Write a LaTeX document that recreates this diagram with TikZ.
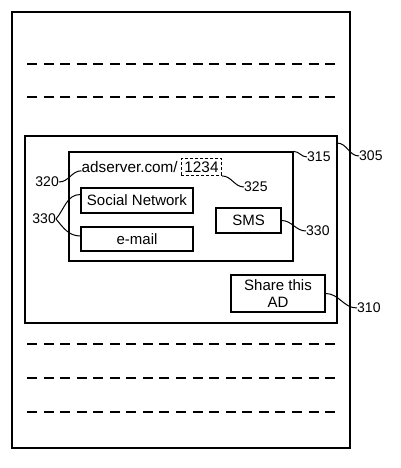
\documentclass[tikz,border=0pt]{standalone}
\usepackage{fontspec}
\setmainfont{Liberation Sans}
\begin{document}
\begin{tikzpicture}[x=1pt,y=-1pt,
  frame/.style={draw, line width=1.2pt, inner sep=0pt},
  box/.style={draw, line width=1.2pt, inner sep=0pt, font=\fontsize{15}{17}\selectfont, align=center},
  dashbox/.style={draw, line width=1.1pt, dash pattern=on 3pt off 2pt, inner sep=3pt, font=\fontsize{15.3}{17}\selectfont},
  lbl/.style={inner sep=0pt, font=\fontsize{14}{16}\selectfont},
  lead/.style={line width=1pt},
  textline/.style={line width=1.4pt, dash pattern=on 10pt off 6.56pt}]
\useasboundingbox (0,0) rectangle (401,468);
% containers
\node[frame, minimum width=338pt, minimum height=436pt] (page) at (181,230) {};
\node[frame, minimum width=312pt, minimum height=187pt] (ad) at (181,229.5) {};
\node[frame, minimum width=224pt, minimum height=109pt] (share) at (181,206.5) {};
% text lines
\coordinate (l1a) at (27,64);  \coordinate (l1b) at (335,64);
\coordinate (l2a) at (27,97);  \coordinate (l2b) at (335,97);
\coordinate (l3a) at (27,344); \coordinate (l3b) at (335,344);
\coordinate (l4a) at (27,378); \coordinate (l4b) at (335,378);
\coordinate (l5a) at (27,412); \coordinate (l5b) at (335,412);
\draw[textline] (l1a) -- (l1b);
\draw[textline] (l2a) -- (l2b);
\draw[textline] (l3a) -- (l3b);
\draw[textline] (l4a) -- (l4b);
\draw[textline] (l5a) -- (l5b);
% url
\node[dashbox] (key) at (201.5,167) {1234};
\node[anchor=base east, inner sep=0pt, font=\fontsize{15.3}{17}\selectfont] (url) at ([xshift=-3pt]key.base west) {adserver.com/};
% buttons
\node[box, minimum width=112pt, minimum height=25pt] (sn) at (137,200.5) {Social Network};
\node[box, minimum width=112pt, minimum height=24pt] (em) at (137,239) {e-mail};
\node[box, minimum width=65pt, minimum height=25pt] (sms) at (248.5,220.5) {SMS};
\node[box, minimum width=94pt, minimum height=37pt] (sh) at (278,293.5) {Share this\\AD};
% labels
\node[lbl, anchor=west] (n305) at (359,156) {305};
\node[lbl, anchor=west] (n315) at (307,157) {315};
\node[lbl, anchor=west] (n325) at (244,187) {325};
\node[lbl, anchor=west] (n330r) at (306,231) {330};
\node[lbl, anchor=west] (n310) at (357,308) {310};
\node[lbl, anchor=east] (n320) at (59,182) {320};
\node[lbl, anchor=east] (n330l) at (56,219) {330};
% leaders
\coordinate (p305) at (337,143);
\draw[lead] (p305) to[out=0,in=180] (n305.west);
\draw[lead] (share.north east) to[out=0,in=180] (n315.west);
\draw[lead] (key.south east) to[out=0,in=180] (n325.west);
\draw[lead] (sms.east) to[out=0,in=180] (n330r.west);
\draw[lead] (sh.east) to[out=0,in=180] (n310.west);
\draw[lead] (n320.east) to[out=0,in=180] ([yshift=-4pt]url.west);
\draw[lead] (n330l.east) to[out=50,in=180] ([yshift=6pt]sn.west);
\draw[lead] (n330l.east) to[out=-50,in=180] ([yshift=3pt]em.west);
\end{tikzpicture}
\end{document}
